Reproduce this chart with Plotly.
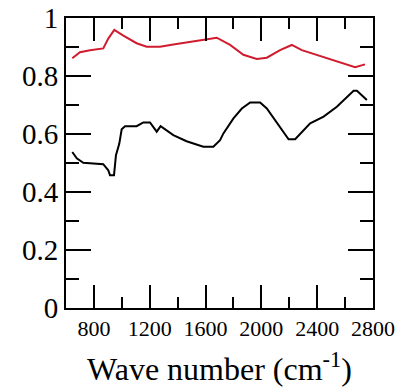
import plotly.graph_objects as go

red_x = [645, 700, 772, 867, 903, 946, 1011, 1106, 1178, 1274, 1369, 1513, 1633, 1680, 1776,
         1871, 1967, 2039, 2134, 2218, 2290, 2398, 2517, 2613, 2672, 2743]
red_y = [0.861, 0.882, 0.889, 0.895, 0.929, 0.959, 0.939, 0.913, 0.901, 0.901, 0.909, 0.920,
         0.931, 0.932, 0.907, 0.873, 0.859, 0.863, 0.889, 0.907, 0.889, 0.872, 0.855, 0.838,
         0.830, 0.840]

black_x = [645, 677, 724, 867, 903, 915, 944, 958, 982, 999, 1023, 1106, 1154, 1202, 1250,
           1278, 1369, 1464, 1584, 1656, 1704, 1728, 1800, 1860, 1920, 1991, 2039, 2111, 2195,
           2242, 2350, 2446, 2541, 2661, 2685, 2756]
black_y = [0.538, 0.516, 0.501, 0.496, 0.475, 0.458, 0.458, 0.527, 0.567, 0.616, 0.627, 0.627,
           0.640, 0.640, 0.608, 0.627, 0.596, 0.575, 0.556, 0.556, 0.579, 0.602, 0.654, 0.688,
           0.709, 0.709, 0.688, 0.637, 0.582, 0.582, 0.637, 0.660, 0.694, 0.749, 0.749, 0.717]

x_ticks = [800, 1200, 1600, 2000, 2400, 2800]
x_minor = [1000, 1400, 1800, 2200, 2600]
y_ticks = [0, 0.2, 0.4, 0.6, 0.8, 1]
y_labels = ["0", "0.2", "0.4", "0.6", "0.8", "1"]
y_minor = [0.1, 0.3, 0.5, 0.7, 0.9]
x_range = [600, 2800]
y_range = [0, 1]

fig = go.Figure()
fig.add_trace(go.Scatter(x=red_x, y=red_y, mode="lines", line=dict(color="#d01c2e", width=2),
                         showlegend=False))
fig.add_trace(go.Scatter(x=black_x, y=black_y, mode="lines", line=dict(color="black", width=2),
                         showlegend=False))
# empty trace so the minor-tick overlay axes get drawn
fig.add_trace(go.Scatter(x=[], y=[], xaxis="x2", yaxis="y2", showlegend=False, hoverinfo="skip"))

font = "Liberation Serif"
axis_common = dict(showline=True, linewidth=2, linecolor="black", mirror="ticks",
                   showgrid=False, zeroline=False, tickcolor="black", tickwidth=2,
                   ticks="inside", automargin=False)
fig.update_layout(
    width=401, height=387,
    margin=dict(l=66, r=28, t=18, b=79),
    paper_bgcolor="white", plot_bgcolor="white",
    font=dict(family=font, color="black"),
    xaxis=dict(
        range=x_range, tickmode="array", tickvals=x_ticks, ticklen=23,
        tickfont=dict(family=font, size=22),
        title=dict(text="Wave number (cm<sup>-1</sup>)", font=dict(family=font, size=32),
                   standoff=24),
        **axis_common,
    ),
    yaxis=dict(
        range=y_range, tickmode="array", tickvals=y_ticks, ticktext=y_labels, ticklen=25,
        tickfont=dict(family=font, size=29),
        **axis_common,
    ),
    xaxis2=dict(
        range=x_range, overlaying="x", anchor="y2", side="bottom",
        tickmode="array", tickvals=x_minor, ticklen=11, showticklabels=False,
        **axis_common,
    ),
    yaxis2=dict(
        range=y_range, overlaying="y", anchor="x2", side="left",
        tickmode="array", tickvals=y_minor, ticklen=13, showticklabels=False,
        **axis_common,
    ),
)

fig.write_html("out.html")
